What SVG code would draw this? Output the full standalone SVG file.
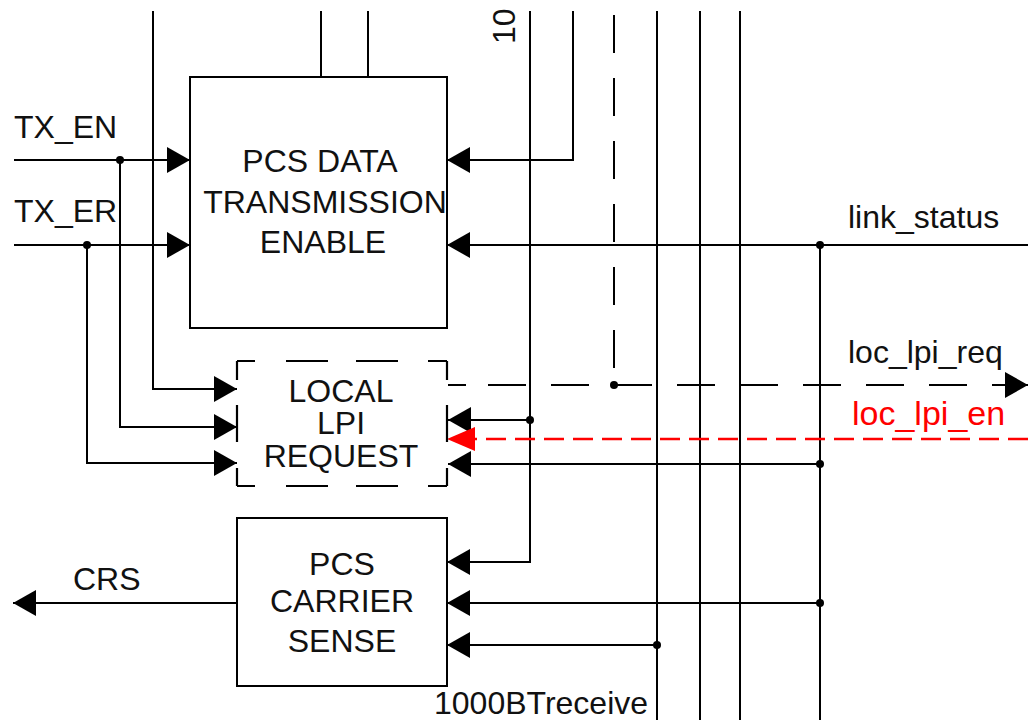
<svg xmlns="http://www.w3.org/2000/svg" width="1028" height="720" viewBox="0 0 1028 720">
<defs>
<style>
.w{fill:none;stroke:#000;stroke-width:2}
.d{fill:none;stroke:#000;stroke-width:2.2}
.box{fill:none;stroke:#000;stroke-width:2}
.t{font-family:"Liberation Sans",Arial,sans-serif;font-size:32px;fill:#111}
.c{text-anchor:middle}
.red{font-size:34px;fill:#ff0000}
.dot{fill:#000}
</style>
<marker id="ah" markerUnits="userSpaceOnUse" markerWidth="24" markerHeight="28" refX="23" refY="13" orient="auto">
<path d="M0,0 L23,13 L0,26 z" fill="#000"/>
</marker>
<marker id="ahr" markerUnits="userSpaceOnUse" markerWidth="30" markerHeight="28" refX="28" refY="12" orient="auto">
<path d="M0,0 L28,12 L0,24 z" fill="#ff0000"/>
</marker>
</defs>
<rect width="1028" height="720" fill="#fff"/>

<g id="connectors">
<path class="w" d="M14,160 H190" marker-end="url(#ah)"/>
<path class="w" d="M14,245 H190" marker-end="url(#ah)"/>
<path class="w" d="M153,11 V389 H237" marker-end="url(#ah)"/>
<path class="w" d="M120,160 V427 H237" marker-end="url(#ah)"/>
<path class="w" d="M87,245 V463 H237" marker-end="url(#ah)"/>
<path class="w" d="M321,11 V77"/>
<path class="w" d="M368,11 V77"/>
<path class="w" d="M573,11 V160 H447" marker-end="url(#ah)"/>
<path class="w" d="M530,11 V562 H447" marker-end="url(#ah)"/>
<path class="w" d="M530,420 H448" marker-end="url(#ah)"/>
<path class="w" d="M614,11 V385" stroke-dasharray="38 25" stroke-dashoffset="-4"/>
<path class="w" d="M448,385 H1028" stroke-dasharray="18 22 38 25 38 25 38 25 38 25 38 25 38 25 38 25 38 25 38 25 38 25" marker-end="url(#ah)"/>
<path class="w" d="M1028,245 H447" marker-end="url(#ah)"/>
<path class="w" d="M820,245 V720"/>
<path class="w" d="M657,11 V720"/>
<path class="w" d="M700,11 V720"/>
<path class="w" d="M740,11 V720"/>
<path fill="none" stroke="#ff0000" stroke-width="2.5" d="M1028,439 H447" stroke-dasharray="20 9" marker-end="url(#ahr)"/>
<path class="w" d="M820,464 H448" marker-end="url(#ah)"/>
<path class="w" d="M820,603 H447" marker-end="url(#ah)"/>
<path class="w" d="M657,645 H447" marker-end="url(#ah)"/>
<path class="w" d="M237,603 H13" marker-end="url(#ah)"/>
<circle class="dot" cx="120" cy="160" r="4"/>
<circle class="dot" cx="87" cy="245" r="4"/>
<circle class="dot" cx="614" cy="385" r="4"/>
<circle class="dot" cx="820" cy="245" r="4"/>
<circle class="dot" cx="530" cy="420" r="4"/>
<circle class="dot" cx="820" cy="464" r="4"/>
<circle class="dot" cx="820" cy="603" r="4"/>
<circle class="dot" cx="657" cy="645" r="4"/>
</g>

<g id="labels">
<text class="t" x="14" y="138">TX_EN</text>
<text class="t" x="14" y="222">TX_ER</text>
<text class="t" x="848" y="228">link_status</text>
<text class="t" x="848" y="363">loc_lpi_req</text>
<text class="t red" x="852" y="425">loc_lpi_en</text>
<text class="t" x="73" y="590">CRS</text>
<text class="t" x="434" y="714">1000BTreceive</text>
<text class="t" transform="translate(515,44) rotate(-90)">10</text>
</g>

<g id="pcs-data-transmission-enable">
<rect class="box" x="190" y="77" width="257" height="251"/>
<text class="t c" x="320" y="172">PCS DATA</text>
<text class="t c" x="325" y="213">TRANSMISSION</text>
<text class="t c" x="323" y="253">ENABLE</text>
</g>

<g id="local-lpi-request">
<path class="d" d="M237,361 H447" stroke-dasharray="18 31 42 28 42 30 19"/>
<path class="d" d="M237,486 H447" stroke-dasharray="18 31 42 28 42 30 19"/>
<path class="d" d="M237,361 V486" stroke-dasharray="19 25 37 26 18"/>
<path class="d" d="M447,361 V486" stroke-dasharray="19 25 37 26 18"/>
<text class="t c" x="341" y="402">LOCAL</text>
<text class="t c" x="341" y="434">LPI</text>
<text class="t c" x="341" y="467">REQUEST</text>
</g>

<g id="pcs-carrier-sense">
<rect class="box" x="237" y="518" width="210" height="168"/>
<text class="t c" x="342" y="575">PCS</text>
<text class="t c" x="342" y="612">CARRIER</text>
<text class="t c" x="342" y="652">SENSE</text>
</g>
</svg>
